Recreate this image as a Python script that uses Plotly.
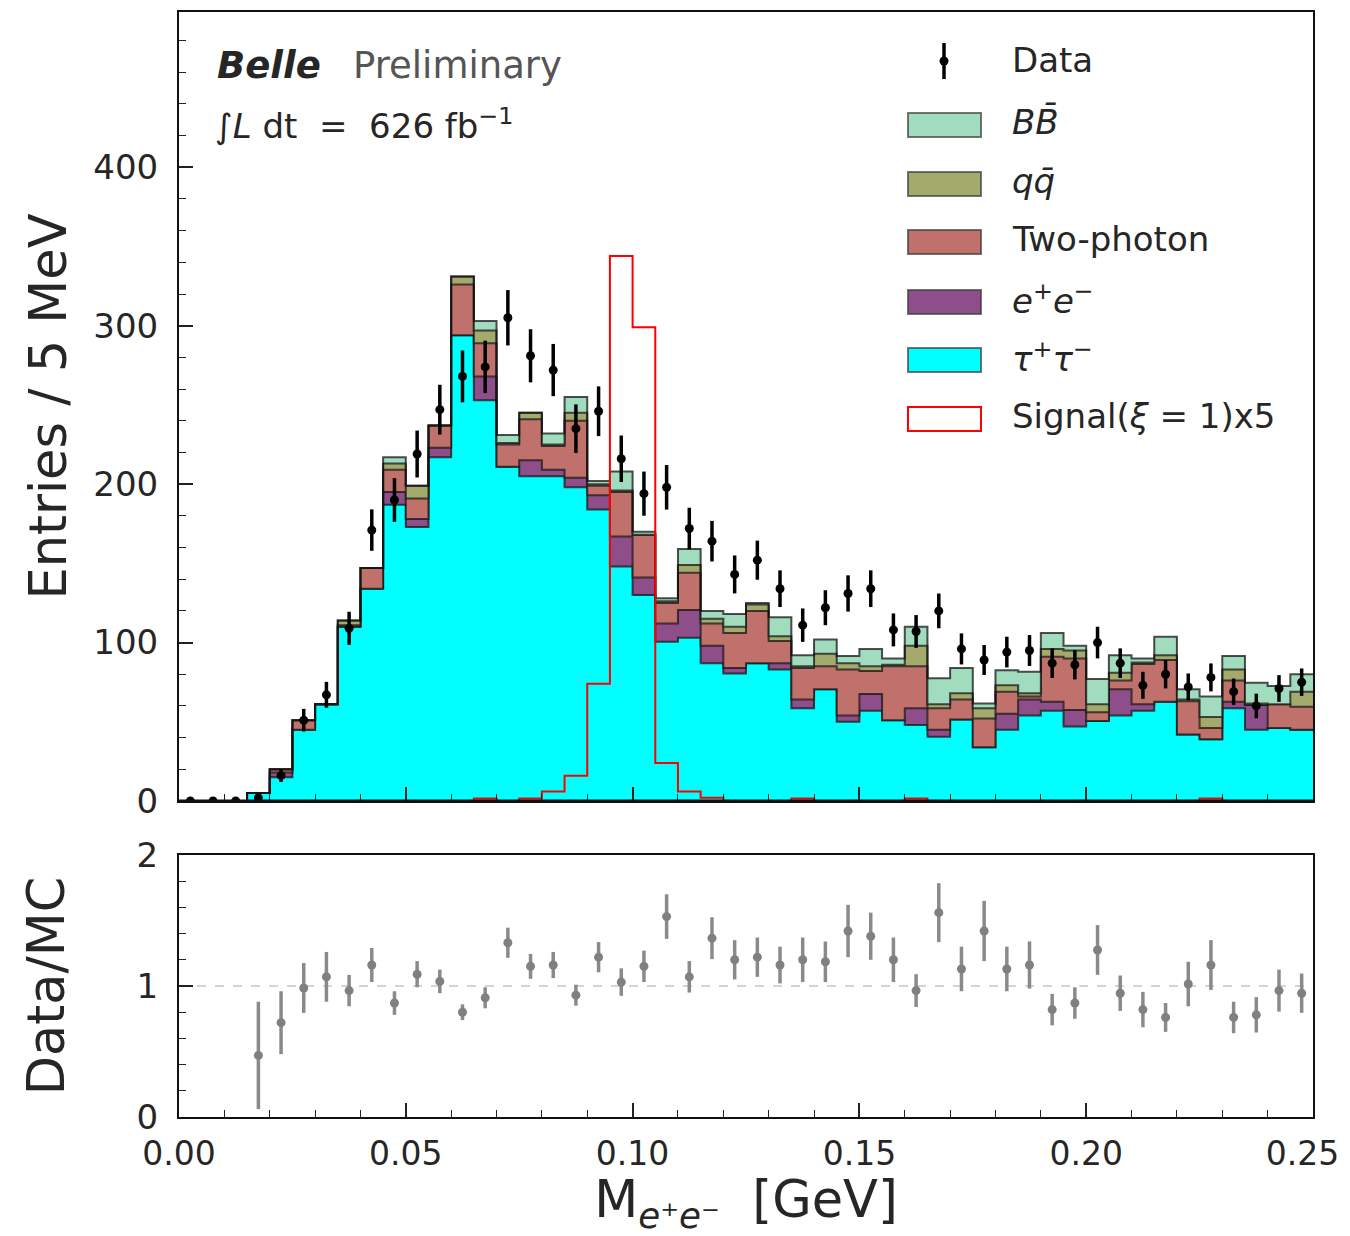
import numpy as np
import plotly.graph_objects as go

# ---------------- data ----------------
bin_edges = [0.000, 0.005, 0.010, 0.015, 0.020, 0.025, 0.030, 0.035, 0.040, 0.045,
             0.050, 0.055, 0.060, 0.065, 0.070, 0.075, 0.080, 0.085, 0.090, 0.095,
             0.100, 0.105, 0.110, 0.115, 0.120, 0.125, 0.130, 0.135, 0.140, 0.145,
             0.150, 0.155, 0.160, 0.165, 0.170, 0.175, 0.180, 0.185, 0.190, 0.195,
             0.200, 0.205, 0.210, 0.215, 0.220, 0.225, 0.230, 0.235, 0.240, 0.245,
             0.250]
x_tick_vals = [0.00, 0.05, 0.10, 0.15, 0.20, 0.25]
x_tick_text = ["0.00", "0.05", "0.10", "0.15", "0.20", "0.25\u00a0\u00a0"]

tautau = [0, 0, 0, 5, 15, 45, 61, 110, 134, 187,
          173, 217, 294, 253, 211, 205, 205, 198, 184, 148,
          130, 100.5, 103, 87, 80.5, 87, 83, 58.5, 70.5, 50,
          57, 51, 48, 40.6, 51.5, 34, 45, 54, 57, 47,
          50.5, 54, 57, 62.7, 42, 39, 58.5, 45, 46, 45]
ee = [0, 0, 0, 0, 3, 0, 0, 0, 0, 8,
      5, 6, 0, 15, 0, 10, 4, 6, 9, 19,
      11, 11.5, 17.5, 11, 3.5, 0, 4, 5.5, 0, 4,
      10.5, 0, 10.5, 4.4, 0, 0, 10, 10, 5.7, 10.4,
      0, 16.5, 4, 0, 0, 0, 4.2, 15.6, 0, 0]
twophoton = [0, 0, 0, 0, 2, 6, 0, 1, 13, 14,
             13, 14, 32, 21, 14, 26, 15, 36, 6, 28,
             27, 13, 23.5, 14, 22, 33, 14, 20, 14.5, 29,
             14.5, 34, 26.5, 13.5, 12.5, 18, 14, 2, 28.3, 32.6,
             5.5, 5.5, 25.4, 26.3, 21, 7, 13.3, 0, 15, 14.5]
qqbar = [0, 0, 0, 0, 0, 0, 0, 3, 0, 4,
         8, 0, 5, 8, 1, 4, 1, 5, 1, 1,
         0, 1, 5, 3, 4, 4, 3, 1, 8, 4,
         3, 1, 13, 2.5, 4, 6.5, 4, 2, 5, 5,
         5, 5, 1, 3, 1, 7, 7, 1, 0, 9.5]
bbbar = [0, 0, 0, 0, 0, 0, 0, 0, 0, 4,
         0, 0, 0, 6, 5, 0, 7, 10, 2, 12,
         2, 2, 10, 5, 8, 1, 12, 7, 9, 4.5,
         11, 4, 12, 16.4, 16, 3.1, 9.6, 13.6, 10, 3,
         16, 11, 2.6, 11.7, 6.5, 13, 8.5, 13, 11.6, 11]
signal_x5 = [0, 0, 0, 0, 0, 0, 0, 0, 0, 0,
             0, 0, 0, 1.5, 0, 1.5, 6, 16, 74, 344,
             299, 24, 6, 2, 0, 0, 0, 1.5, 0, 0,
             0, 0, 1.5, 0, 0, 0, 0, 0, 0, 0,
             0, 0, 0, 0, 0, 1.5, 0, 0, 0, 0]
data = [0, 0, 0, 2, 16, 51, 67, 109, 171, 190,
        219, 247, 268, 274, 305, 281, 272, 235, 246, 216,
        194, 198, 172, 164, 143, 152, 134, 111, 122, 131,
        134, 108, 107, 120, 96, 89, 94, 95, 87, 86,
        100, 87, 73, 80, 72, 78, 69, 60, 71, 75]
ratio = [None, None, None, 0.47, 0.72, 0.985, 1.07, 0.965, 1.16, 0.87,
         1.09, 1.035, 0.80, 0.91, 1.33, 1.15, 1.16, 0.93, 1.22, 1.03,
         1.15, 1.53, 1.07, 1.365, 1.20, 1.22, 1.16, 1.20, 1.185, 1.42,
         1.38, 1.20, 0.965, 1.56, 1.13, 1.42, 1.13, 1.16, 0.82, 0.87,
         1.275, 0.945, 0.82, 0.76, 1.015, 1.16, 0.76, 0.78, 0.965, 0.945]
ratio_err = [None, None, None, 0.41, 0.24, 0.19, 0.19, 0.12, 0.13, 0.09,
             0.10, 0.09, 0.06, 0.08, 0.115, 0.095, 0.10, 0.08, 0.115, 0.105,
             0.12, 0.17, 0.12, 0.16, 0.15, 0.15, 0.14, 0.17, 0.155, 0.20,
             0.18, 0.17, 0.125, 0.225, 0.17, 0.23, 0.17, 0.18, 0.12, 0.12,
             0.19, 0.135, 0.135, 0.11, 0.17, 0.19, 0.12, 0.135, 0.16, 0.15]

components = [
    ("τ⁺τ⁻", tautau, "#00ffff"),
    ("e⁺e⁻", ee, "#8d4e8a"),
    ("Two-photon", twophoton, "#c1716b"),
    ("qq̄", qqbar, "#a3aa6c"),
    ("BB̄", bbbar, "#a1dcbe"),
]

edges = np.array(bin_edges)
centers = 0.5 * (edges[:-1] + edges[1:])

def step_y(vals):
    v = list(vals)
    return v + [v[-1]]

# ---------------- geometry ----------------
# page body has an 8 px default margin; compensate so the plot lands where intended
OFF = 8
W, H = 1350 - OFF, 1236 - OFF
L_, R_, T_, B_ = 179, 1313, 12, 1117   # target plot-area edges in window pixels

def px(x):
    return (x - L_) / (R_ - L_)

def py(y):
    return (B_ - y) / (B_ - T_)

fig = go.Figure()

edge_col = "rgba(20,20,20,0.75)"
cum = np.zeros(len(tautau))
for i, (name, vals, col) in enumerate(components):
    cum = cum + np.array(vals, dtype=float)
    fig.add_trace(go.Scatter(
        x=edges, y=step_y(cum), mode="lines", name=name,
        line=dict(shape="hv", color=edge_col, width=2),
        fill="tozeroy" if i == 0 else "tonexty", fillcolor=col,
        xaxis="x", yaxis="y", showlegend=False, hoverinfo="skip"))

fig.add_trace(go.Scatter(
    x=edges, y=step_y(signal_x5), mode="lines", name="Signal(ξ=1)x5",
    line=dict(shape="hv", color="#ff0000", width=2),
    xaxis="x", yaxis="y", showlegend=False))

fig.add_trace(go.Scatter(
    x=centers, y=data, mode="markers", name="Data",
    marker=dict(color="black", size=9),
    error_y=dict(type="data", array=np.sqrt(np.array(data, dtype=float)),
                 thickness=3.5, width=0, color="black"),
    xaxis="x", yaxis="y", showlegend=False))

fig.add_trace(go.Scatter(
    x=centers, y=ratio, mode="markers", name="Data/MC",
    marker=dict(color="#808080", size=9),
    error_y=dict(type="data", array=ratio_err, thickness=3.5, width=0, color="#8a8a8a"),
    xaxis="x2", yaxis="y2", showlegend=False))

# reference line at 1
fig.add_shape(type="line", xref="x2", yref="y2", x0=0, x1=0.25, y0=1, y1=1,
              line=dict(color="#aaaaaa", width=1.2, dash="dash"), layer="below")
# bottom spine of the main panel drawn over the histograms (hides zero-level step lines)
fig.add_shape(type="line", xref="x", yref="y", x0=0, x1=0.25, y0=0, y1=0,
              line=dict(color="#111111", width=3), layer="above")

tick_font = dict(family="DejaVu Sans", size=34, color="#262626")
xtick_font = dict(family="DejaVu Sans", size=33, color="#262626")
title_font = dict(family="DejaVu Sans", size=51, color="#262626")
ax_common = dict(showline=True, linecolor="#111111", linewidth=2, mirror=True,
                 ticks="inside", ticklen=14, tickwidth=1.6, tickcolor="#222222",
                 showgrid=False, zeroline=False, automargin=False)
minor_common = dict(ticks="inside", ticklen=7, tickwidth=1.4, tickcolor="#222222", showgrid=False)

fig.update_layout(
    width=W, height=H,
    margin=dict(l=L_ - OFF, r=W - (R_ - OFF), t=T_ - OFF, b=H - (B_ - OFF), pad=0, autoexpand=False),
    paper_bgcolor="white", plot_bgcolor="white",
    font=dict(family="DejaVu Sans", color="#262626"),
    showlegend=False,
    xaxis=dict(domain=[0, 1], anchor="y", range=[0, 0.25], matches="x2",
               showticklabels=False, tickmode="array", tickvals=x_tick_vals,
               minor=dict(dtick=0.01, **minor_common), tickfont=xtick_font,
               **ax_common),
    yaxis=dict(domain=[py(801), 1], anchor="x", range=[0, 498], dtick=100,
               ticklabelstandoff=12, tickfont=tick_font,
               minor=dict(dtick=20, **minor_common),
               title=dict(text="Entries / 5 MeV", font=title_font, standoff=10),
               **ax_common),
    xaxis2=dict(domain=[0, 1], anchor="y2", range=[0, 0.25],
                tickmode="array", tickvals=x_tick_vals, ticktext=x_tick_text,
                ticklabelstandoff=6, ticklabeloverflow="allow", tickfont=xtick_font,
                minor=dict(dtick=0.01, **minor_common),
                title=dict(text="M<sub><i>e</i>⁺<i>e</i>⁻</sub>  [GeV]", font=title_font, standoff=14),
                **ax_common),
    yaxis2=dict(domain=[0, py(855)], anchor="x2", range=[0, 2], dtick=1,
                ticklabelstandoff=12, tickfont=tick_font,
                minor=dict(dtick=0.2, **minor_common),
                title=dict(text="Data/MC", font=title_font, standoff=56),
                **ax_common),
)

# ---------------- text labels ----------------
fig.add_annotation(xref="paper", yref="paper", x=px(215), y=py(65), xanchor="left", yanchor="middle",
                   text="<b><i>Belle</i></b>", showarrow=False,
                   font=dict(family="DejaVu Sans", size=37, color="#262626"))
fig.add_annotation(xref="paper", yref="paper", x=px(351), y=py(65), xanchor="left", yanchor="middle",
                   text="Preliminary", showarrow=False,
                   font=dict(family="DejaVu Sans", size=37, color="#555555"))
fig.add_annotation(xref="paper", yref="paper", x=px(213), y=py(124), xanchor="left", yanchor="middle",
                   text="∫<i>L</i> dt  =  626 fb<sup>−1</sup>", showarrow=False,
                   font=dict(family="DejaVu Sans", size=34, color="#262626"))

# ---------------- legend (drawn) ----------------
legend_rows = [
    ("<i>BB̄</i>", "#a1dcbe", "rgba(60,60,60,0.7)", 125),
    ("<i>qq̄</i>", "#a3aa6c", "rgba(60,60,60,0.7)", 184),
    ("Two-photon", "#c1716b", "rgba(60,60,60,0.7)", 242),
    ("<i>e</i><sup>+</sup><i>e</i><sup>−</sup>", "#8d4e8a", "rgba(60,60,60,0.7)", 302),
    ("<i>τ</i><sup>+</sup><i>τ</i><sup>−</sup>", "#00ffff", "rgba(60,60,60,0.7)", 360),
    ("Signal(<i>ξ</i> = 1)x5", "white", "#ff0000", 419),
]
leg_font = dict(family="DejaVu Sans", size=34, color="#262626")
for label, fcol, lcol, yc in legend_rows:
    fig.add_shape(type="rect", xref="paper", yref="paper",
                  x0=px(908), x1=px(981), y0=py(yc + 12), y1=py(yc - 12),
                  fillcolor=fcol, line=dict(color=lcol, width=2))
    fig.add_annotation(xref="paper", yref="paper", x=px(1010), y=py(yc - 3),
                       xanchor="left", yanchor="middle", text=label, showarrow=False,
                       font=leg_font)
# Data entry
fig.add_shape(type="line", xref="paper", yref="paper", x0=px(944), x1=px(944),
              y0=py(79), y1=py(43), line=dict(color="black", width=3.5))
fig.add_shape(type="circle", xref="paper", yref="paper", x0=px(939.5), x1=px(948.5),
              y0=py(65.5), y1=py(56.5), fillcolor="black", line=dict(color="black", width=0))
fig.add_annotation(xref="paper", yref="paper", x=px(1010), y=py(60),
                   xanchor="left", yanchor="middle", text="Data", showarrow=False,
                   font=leg_font)

# hide page scrollbars so the figure is not squeezed by them
fig.write_html("out.html",
               post_script="document.documentElement.style.overflow='hidden';"
                           "document.body.style.overflow='hidden';")
